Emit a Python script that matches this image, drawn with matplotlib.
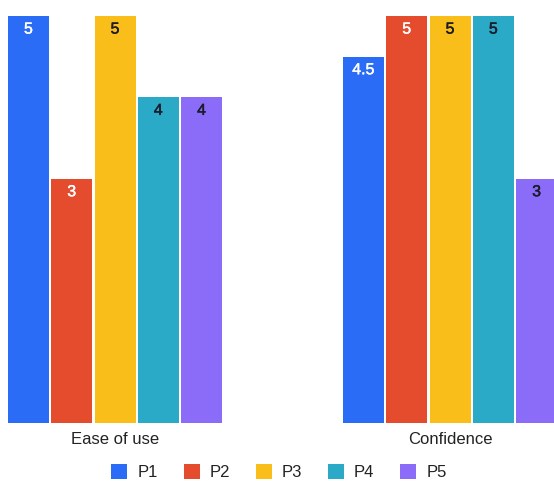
import numpy as np
import matplotlib
matplotlib.use('Agg')
import matplotlib.pyplot as plt
import matplotlib.patheffects as pe
from matplotlib.patches import Patch

# Chart data
categories = ['Ease of use', 'Confidence']
series = ['P1', 'P2', 'P3', 'P4', 'P5']
p1 = [5, 4.5]
p2 = [3, 5]
p3 = [5, 5]
p4 = [4, 5]
p5 = [4, 3]

colors = ['#2B6CF6', '#E54C2E', '#F9BE1A', '#2BAAC8', '#8A6CF8']
label_colors = ['white', 'white', '#1B1B2A', '#1B1B2A', '#1B1B2A']

plt.rcParams['font.family'] = ['Liberation Sans', 'DejaVu Sans']

W, H = 554, 482
fig = plt.figure(figsize=(W / 100, H / 100), dpi=100)
# axes placed in pixel terms: bottom of bars at y=422.7 px from top
ax = fig.add_axes([0, (H - 422.7) / H, 1, 422.7 / H])

px_per_unit = 335.0
x = np.arange(len(categories))
step = 43.3 / px_per_unit
width = 41.0 / px_per_unit

all_values = [p1, p2, p3, p4, p5]
for i, vals in enumerate(all_values):
    offs = (i - 2) * step
    bars = ax.bar(x + offs, vals, width=width, color=colors[i],
                  edgecolor='none', label=series[i])
    for rect, v in zip(bars, vals):
        txt = f'{v:g}'
        ax.annotate(txt, (rect.get_x() + rect.get_width() / 2, v),
                    xytext=(0, -9.4), textcoords='offset points',
                    ha='center', va='center', fontsize=11.5,
                    color=label_colors[i],
                    path_effects=[pe.withStroke(linewidth=0.3,
                                                foreground=label_colors[i])])

ax.set_xlim(-115 / px_per_unit, (W - 115) / px_per_unit)
ax.set_ylim(0, 422.7 / 81.34)

ax.set_xticks(x)
ax.set_xticklabels(categories, fontsize=12, color='#222222')
ax.tick_params(axis='x', length=0, pad=7)
ax.set_yticks([])
for s in ax.spines.values():
    s.set_visible(False)

handles = [Patch(facecolor=c, edgecolor='none') for c in colors]
fig.legend(handles, series, loc='center', ncol=5, frameon=False,
           bbox_to_anchor=(279 / W, 1 - 472 / H), fontsize=12,
           handlelength=0.96, handleheight=0.96, handletextpad=0.6,
           columnspacing=1.55, labelcolor='#222222')

fig.savefig('out.png', dpi=100, facecolor='white')
